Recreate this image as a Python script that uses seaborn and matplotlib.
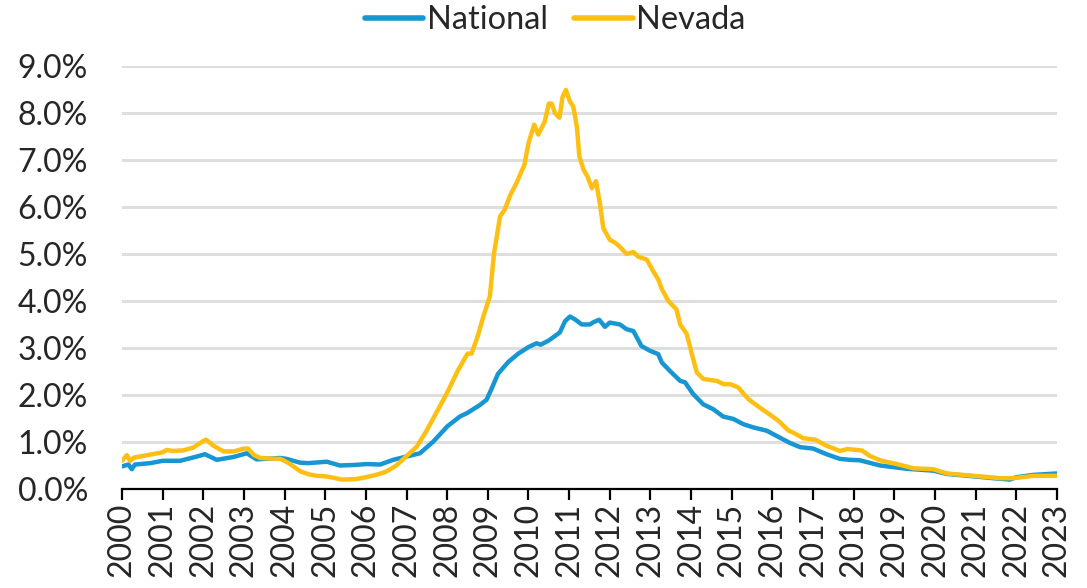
import matplotlib
matplotlib.use("Agg")
import matplotlib.pyplot as plt
import seaborn as sns
import pandas as pd
from matplotlib.ticker import PercentFormatter, MultipleLocator

# ---- data (decimal years, percent) ----
nevada_x = [0.0, 0.12, 0.2, 0.3, 0.5, 0.75, 1.0, 1.1, 1.25, 1.5, 1.75, 2.0, 2.07, 2.25, 2.5,
            2.75, 3.0, 3.1, 3.25, 3.4, 3.6, 3.9, 4.1, 4.25, 4.4, 4.6, 4.8, 5.0, 5.2, 5.4,
            5.75, 6.0, 6.25, 6.5, 6.75, 7.0, 7.25, 7.5, 7.75, 8.0, 8.25, 8.5, 8.6, 8.75, 8.9,
            9.05, 9.15, 9.3, 9.42, 9.55, 9.7, 9.9, 10.0, 10.14, 10.24, 10.4, 10.5, 10.57, 10.65,
            10.76, 10.84, 10.92, 11.02, 11.1, 11.19, 11.25, 11.35, 11.45, 11.56, 11.66, 11.76,
            11.84, 12.0, 12.13, 12.25, 12.41, 12.58, 12.7, 12.91, 13.07, 13.19, 13.28, 13.44,
            13.64, 13.73, 13.89, 14.01, 14.14, 14.3, 14.63, 14.8, 14.96, 15.16, 15.41, 15.69,
            15.86, 16.15, 16.4, 16.51, 16.76, 17.05, 17.33, 17.66, 17.85, 18.2, 18.4, 18.65,
            19.06, 19.47, 19.96, 20.29, 20.94, 21.6, 21.93, 22.42, 23.0]
nevada_v = [0.60, 0.72, 0.60, 0.67, 0.70, 0.74, 0.78, 0.83, 0.81, 0.82, 0.88, 1.02, 1.05, 0.92, 0.80,
            0.80, 0.86, 0.86, 0.72, 0.66, 0.65, 0.64, 0.55, 0.46, 0.37, 0.31, 0.28, 0.27, 0.24, 0.20,
            0.21, 0.25, 0.30, 0.37, 0.50, 0.70, 0.90, 1.25, 1.65, 2.05, 2.50, 2.88, 2.88, 3.25, 3.70,
            4.10, 5.00, 5.80, 5.95, 6.25, 6.50, 6.90, 7.36, 7.75, 7.54, 7.82, 8.20, 8.20, 8.00,
            7.90, 8.35, 8.49, 8.24, 8.14, 7.71, 7.08, 6.80, 6.65, 6.40, 6.55, 6.05,
            5.55, 5.30, 5.24, 5.15, 5.00, 5.04, 4.94, 4.88, 4.63, 4.46, 4.25, 4.00,
            3.82, 3.50, 3.30, 2.90, 2.48, 2.34, 2.30, 2.23, 2.23, 2.16, 1.91, 1.73,
            1.63, 1.45, 1.24, 1.20, 1.08, 1.05, 0.92, 0.81, 0.85, 0.82, 0.70, 0.61,
            0.53, 0.44, 0.42, 0.33, 0.28, 0.23, 0.23, 0.28, 0.28]

national_x = [0.0, 0.16, 0.24, 0.32, 0.7, 1.0, 1.43, 1.84, 2.04, 2.33, 2.74, 3.07, 3.31, 3.89,
              4.05, 4.38, 4.58, 5.04, 5.36, 5.69, 6.02, 6.35, 6.67, 7.0, 7.33, 7.66, 8.0, 8.31,
              8.5, 8.81, 8.97, 9.1, 9.25, 9.5, 9.75, 10.0, 10.2, 10.3, 10.5, 10.77, 10.9, 11.02,
              11.14, 11.31, 11.51, 11.6, 11.74, 11.88, 12.0, 12.25, 12.41, 12.58, 12.78, 12.99,
              13.19, 13.28, 13.48, 13.73, 13.85, 14.05, 14.3, 14.54, 14.79, 15.04, 15.28, 15.53,
              15.86, 16.1, 16.43, 16.68, 17.0, 17.33, 17.66, 17.91, 18.15, 18.65, 19.3, 19.96,
              20.29, 20.94, 21.43, 21.84, 22.0, 22.42, 23.0]
national_v = [0.48, 0.52, 0.42, 0.52, 0.55, 0.60, 0.60, 0.69, 0.74, 0.62, 0.68, 0.76, 0.63, 0.66,
              0.64, 0.56, 0.55, 0.58, 0.50, 0.51, 0.53, 0.52, 0.62, 0.69, 0.76, 1.01, 1.33, 1.54,
              1.62, 1.79, 1.90, 2.15, 2.45, 2.70, 2.88, 3.02, 3.10, 3.07, 3.16, 3.33, 3.57, 3.67,
              3.61, 3.50, 3.50, 3.55, 3.60, 3.45, 3.54, 3.50, 3.40, 3.36, 3.04, 2.94,
              2.87, 2.69, 2.51, 2.30, 2.27, 2.02, 1.80, 1.70, 1.54, 1.49, 1.38, 1.31,
              1.24, 1.13, 0.98, 0.89, 0.86, 0.74, 0.64, 0.62, 0.61, 0.50, 0.43, 0.39,
              0.32, 0.27, 0.23, 0.20, 0.25, 0.30, 0.33]

series_names = ["National", "Nevada"]
series_colors = ["#1696d2", "#fdbf11"]
year_labels = [str(y) for y in range(2000, 2024)]

df = pd.concat([
    pd.DataFrame({"year": [2000 + x for x in national_x], "value": national_v, "series": "National"}),
    pd.DataFrame({"year": [2000 + x for x in nevada_x], "value": nevada_v, "series": "Nevada"}),
])

sns.set_style("white")
plt.rcParams["font.family"] = ["Lato", "DejaVu Sans"]

fig = plt.figure(figsize=(10.87, 5.88), dpi=100)
ax = fig.add_axes([0.1122, 0.1684, 0.8602, 0.7194])

sns.lineplot(data=df, x="year", y="value", hue="series", hue_order=series_names,
             palette=dict(zip(series_names, series_colors)), linewidth=3.2,
             sort=False, estimator=None, ax=ax)

ax.set_xlim(2000, 2023)
ax.set_ylim(0, 9)
ax.yaxis.set_major_locator(MultipleLocator(1))
ax.yaxis.set_major_formatter(PercentFormatter(decimals=1))
ax.set_xticks(range(2000, 2024))
ax.set_xticklabels(year_labels, rotation=90)
ax.set_xlabel("")
ax.set_ylabel("")

ax.grid(axis="y", color="#dedede", linewidth=2.2)
ax.grid(axis="x", visible=False)
ax.set_axisbelow(True)
for s in ["top", "right", "left"]:
    ax.spines[s].set_visible(False)
ax.spines["bottom"].set_color("black")
ax.spines["bottom"].set_linewidth(1.6)
ax.spines["bottom"].set_zorder(5)

ax.tick_params(axis="x", which="major", bottom=True, direction="out", length=8, width=1.6,
               color="black", labelsize=23, pad=2)
ax.tick_params(axis="y", left=False, labelsize=23, pad=21)

leg = ax.legend(loc="center", bbox_to_anchor=(0.463, 1 + 46 / 423), ncol=2, frameon=False,
                fontsize=23.5, handlelength=1.8, handletextpad=0.1, columnspacing=0.8,
                borderaxespad=0.0, borderpad=0.0)
for line in leg.get_lines():
    line.set_linewidth(4)

fig.savefig("out.png", dpi=100)
